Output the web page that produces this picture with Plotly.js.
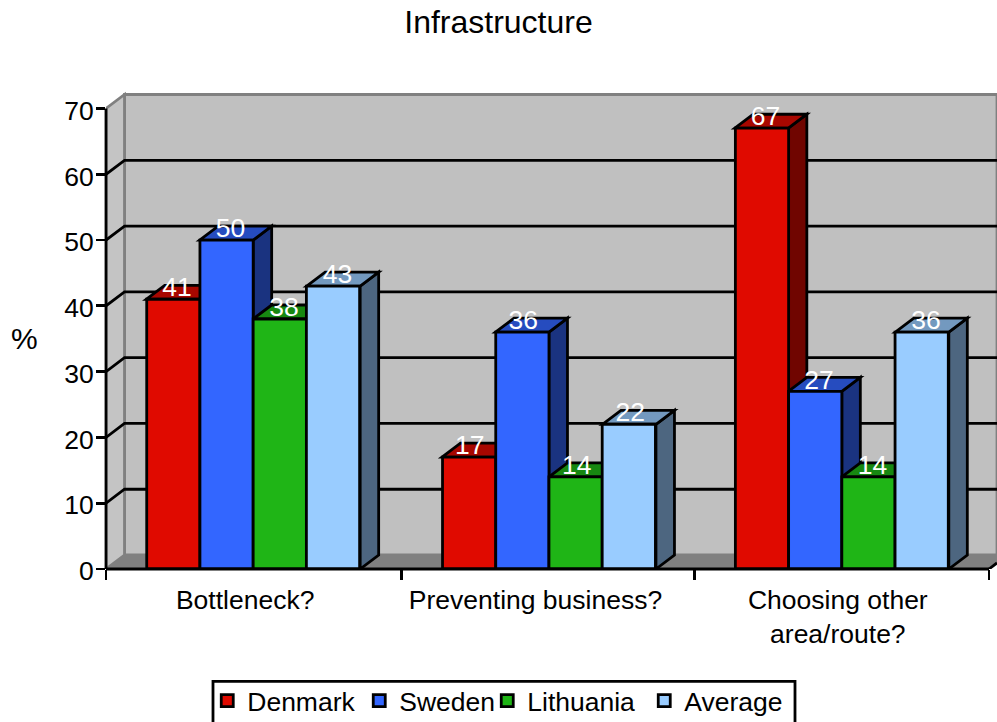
<!DOCTYPE html>
<html>
<head>
<meta charset="utf-8">
<script src="https://cdn.plot.ly/plotly-3.0.1.min.js"></script>
<style>html,body{margin:0;padding:0;background:#fff;overflow:hidden}</style>
</head>
<body>
<div id="chart" style="width:997px;height:722px"></div>
<script>
const categories = ['Bottleneck?', 'Preventing business?', 'Choosing other<br>area/route?'];
const seriesNames = ['Denmark', 'Sweden', 'Lithuania', 'Average'];
const denmark = [41, 17, 67];
const sweden = [50, 36, 27];
const lithuania = [38, 14, 14];
const average = [43, 22, 36];
const seriesValues = [denmark, sweden, lithuania, average];
const yTicks = [0, 10, 20, 30, 40, 50, 60, 70];
const gridValues = [10, 20, 30, 40, 50, 60];
const frontColors = ['#E00A00', '#3366FF', '#1FB516', '#99CCFF'];
const topColors = ['#A80700', '#264CBF', '#178811', '#7399BF'];
const sideColors = ['#700500', '#1A3380', '#105B0B', '#4D6680'];

const FONT = 'Liberation Sans, Arial, sans-serif';
const W = 997, H = 722, L = 106, B = 569.5, T = 90;
const pxX = 883 / 3, pxY = 461 / 70;
const xMin = -0.5, xMax = 2.5 + (W - 989) / pxX, yMax = (B - T) / pxY;
const dx = 18.5 / pxX, dy = 14 / pxY;
const bargap = 0.273, barW = (1 - bargap) / 4;
const groupX = [0, 1.005, 2];
const labelShift = [4, 1, 4];
const barCenter = (c, s) => groupX[c] + (s - 1.5) * barW;
const wallX = xMin + dx;
const LW = 2.8;
const paperX = px => (px - L) / (W - L);
const paperY = px => (B - px) / (B - T);
const path = pts => 'M' + pts.map(p => p[0] + ',' + p[1]).join('L') + 'Z';
const open = pts => 'M' + pts.map(p => p[0] + ',' + p[1]).join('L');
const dataShape = (d, fill, line, width, layer) => ({
  type: 'path', xref: 'x', yref: 'y', path: d, fillcolor: fill || 'rgba(0,0,0,0)',
  line: {color: line, width: width}, layer: layer || 'below'
});

const shapes = [];
const floorEnd = dy * (W - 989) / 18.5;
// back wall, left wall, floor
shapes.push(dataShape(path([[wallX, dy], [xMax, dy], [xMax, 70 + dy], [wallX, 70 + dy]]), '#C0C0C0', '#808080', LW));
shapes.push(dataShape(path([[xMin, 0], [wallX, dy], [wallX, 70 + dy], [xMin, 70]]), '#C4C4C4', '#808080', LW));
shapes.push(dataShape(path([[xMin, 0], [wallX, dy], [xMax, dy], [xMax, floorEnd], [2.5, 0]]), '#808080', '#808080', 1));
// grid lines on the walls
gridValues.forEach(v => shapes.push(dataShape(open([[xMin, v], [wallX, v + dy], [xMax, v + dy]]), null, '#000', LW)));
shapes.push(dataShape(open([[2.5, 0], [xMax, floorEnd]]), null, '#000', LW));
// 3D faces of the bars
categories.forEach((_, c) => {
  seriesValues.forEach((vals, s) => {
    const x0 = barCenter(c, s) - barW / 2, x1 = barCenter(c, s) + barW / 2, v = vals[c];
    shapes.push(dataShape(path([[x1, 0], [x1 + dx, dy], [x1 + dx, v + dy], [x1, v]]), sideColors[s], '#000', LW));
    shapes.push(dataShape(path([[x0, v], [x0 + dx, v + dy], [x1 + dx, v + dy], [x1, v]]), topColors[s], '#000', LW));
  });
});
// axis lines (paper reference so they are not clipped at the plot edge)
shapes.push({type: 'line', xref: 'paper', yref: 'paper', x0: 0, x1: 0, y0: 0, y1: 70 / yMax, line: {color: '#000', width: LW}, layer: 'above'});
shapes.push({type: 'line', xref: 'paper', yref: 'paper', x0: 0, x1: paperX(989), y0: 0, y1: 0, line: {color: '#000', width: LW}, layer: 'above'});
// legend frame, running off the bottom of the picture
shapes.push({type: 'rect', xref: 'paper', yref: 'paper', x0: paperX(213), x1: paperX(795), y0: paperY(682), y1: paperY(735),
  fillcolor: '#fff', line: {color: '#000', width: LW}, layer: 'below'});

const legendLeft = [207.25, 359.25, 487.25, 644.25];
const legendIds = ['legend', 'legend2', 'legend3', 'legend4'];

const traces = seriesValues.map((vals, s) => ({
  type: 'bar', name: seriesNames[s], x: groupX, y: vals, legend: legendIds[s],
  marker: {color: frontColors[s], line: {color: '#000', width: LW}}, hoverinfo: 'skip'
}));
seriesValues.forEach((vals, s) => traces.push({
  type: 'scatter', mode: 'text', showlegend: false, cliponaxis: false, hoverinfo: 'skip',
  x: groupX.map((g, c) => barCenter(c, s) + labelShift[c] / pxX),
  y: vals.map(v => v + 9.5 / pxY),
  text: vals.map(String), textposition: 'middle center',
  textfont: {family: FONT, size: 26.5, color: '#fff'}
}));

const layout = {
  width: W, height: H, autosize: false,
  margin: {l: L, r: 0, t: T, b: H - B, pad: 0},
  paper_bgcolor: '#fff', plot_bgcolor: 'rgba(0,0,0,0)',
  font: {family: FONT, size: 26.5, color: '#000'},
  title: {text: 'Infrastructure', font: {family: FONT, size: 32, color: '#000'},
    x: 0.5, xref: 'container', xanchor: 'center', y: 1 - 22 / H, yref: 'container', yanchor: 'middle'},
  barmode: 'group', bargap: bargap, bargroupgap: 0, hovermode: false, dragmode: false,
  xaxis: {range: [xMin, xMax], fixedrange: true, showgrid: false, zeroline: false, showline: false,
    tickmode: 'array', tickvals: [-8 / pxX, 1 - 12 / pxX, 2 - 4 / pxX], ticktext: categories, ticks: '', ticklabelstandoff: 12,
    tickfont: {family: FONT, size: 26.5, color: '#000'}, tickangle: 0,
    minor: {ticks: 'outside', tickmode: 'array', tickvals: [-0.5, 0.505, 1.5, 2.5], ticklen: 10, tickwidth: LW, tickcolor: '#000', showgrid: false}},
  yaxis: {range: [0, yMax], fixedrange: true, showgrid: false, zeroline: false, showline: false,
    tickmode: 'array', tickvals: yTicks, ticks: 'outside', ticklen: 9, tickwidth: LW, tickcolor: '#000',
    ticklabelstandoff: -3, ticklabelshift: 2,
    tickfont: {family: FONT, size: 26.5, color: '#000'}},
  shapes: shapes,
  annotations: [{text: '%', xref: 'paper', yref: 'paper', x: paperX(24.5), y: paperY(339), xanchor: 'center', yanchor: 'middle',
    showarrow: false, font: {family: FONT, size: 30, color: '#000'}}]
};
legendIds.forEach((id, s) => {
  layout[id] = {orientation: 'h', xref: 'container', yref: 'container', x: legendLeft[s] / W, y: 1 - 701 / H,
    xanchor: 'left', yanchor: 'middle', bgcolor: 'rgba(0,0,0,0)', borderwidth: 0,
    font: {family: FONT, size: 26.5, color: '#000'}};
});
Plotly.newPlot('chart', traces, layout, {displayModeBar: false, staticPlot: true});
</script>
</body>
</html>
